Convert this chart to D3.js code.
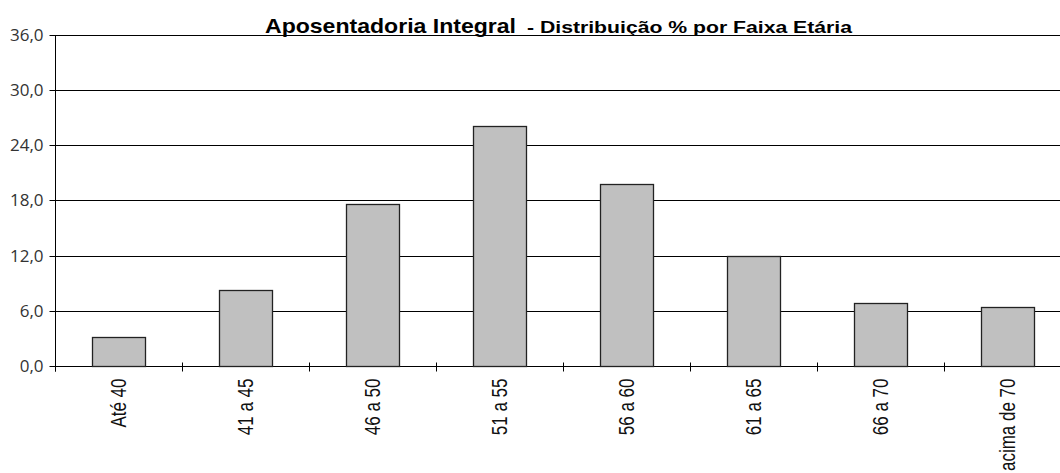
<!DOCTYPE html>
<html>
<head>
<meta charset="utf-8">
<script src="https://cdn.jsdelivr.net/npm/d3@7"></script>
<style>
  body { margin: 0; background: #fff; }
  svg { display: block; }
</style>
</head>
<body>
<div class="svg-container"></div>
<script>
    const categories = ["Até 40", "41 a 45", "46 a 50", "51 a 55", "56 a 60", "61 a 65", "66 a 70", "acima de 70"];
    const percentValues = [3.2, 8.2, 17.6, 26.1, 19.8, 12.0, 6.8, 6.4];
    const yTickValues = [0, 6, 12, 18, 24, 30, 36];
    const titleMain = "Aposentadoria Integral";
    const titleSub = "- Distribuição % por Faixa Etária";

    const chart_width = 1060;
    const chart_height = 473;

    const chart_svg = d3.select('.svg-container').append('svg')
        .attr('width', chart_width).attr('height', chart_height)
        .style("font-family", "'Liberation Sans', Arial, Helvetica, sans-serif");

    const x = d3.scaleBand()
        .domain(categories)
        .range([55, 1071])
        .paddingInner(0.585)
        .paddingOuter(0.2925);

    const y = d3.scaleLinear()
        .domain([0, 36])
        .range([366, 34.5]);

    const snap = v => Math.round(v) + 0.5;

    // gridlines
    chart_svg.append('g').attr('class', 'grid')
        .selectAll('line')
        .data(yTickValues)
        .enter()
        .append('line')
          .attr('x1', 55).attr('x2', chart_width)
          .attr('y1', d => snap(y(d))).attr('y2', d => snap(y(d)))
          .attr('stroke', '#000')
          .attr('stroke-width', 1);

    // bars
    chart_svg.append('g').attr('class', 'bars')
        .selectAll('rect')
        .data(percentValues)
        .enter()
        .append('rect')
          .attr('x', (d, i) => snap(x(categories[i])))
          .attr('y', d => snap(y(d)))
          .attr('width', Math.round(x.bandwidth()))
          .attr('height', d => snap(y(0)) - snap(y(d)))
          .attr('fill', '#c0c0c0')
          .attr('stroke', '#222')
          .attr('stroke-width', 1.3);

    // y axis
    const yAxis = d3.axisLeft(y)
        .tickValues(yTickValues)
        .tickSize(6)
        .tickPadding(6)
        .tickFormat(d => d.toFixed(1).replace('.', ','));

    const g_y = chart_svg.append('g')
        .attr('transform', 'translate(55.5,0)')
        .call(yAxis);
    g_y.select('.domain').remove();
    g_y.selectAll('.tick').attr('transform', d => 'translate(0,' + snap(y(d)) + ')');
    g_y.selectAll('.tick line').attr('stroke', '#000');
    g_y.selectAll('.tick text')
        .attr('fill', '#333')
        .style('font-family', "'Open Sans', 'DejaVu Sans', sans-serif")
        .style('font-size', '17px');
    g_y.append('line')
        .attr('x1', 0).attr('x2', 0)
        .attr('y1', snap(y(36))).attr('y2', snap(y(0)) + 5)
        .attr('stroke', '#000');

    // x axis: tick marks sit on the band boundaries
    const xAxis = d3.axisBottom(x).tickSize(0).tickPadding(12);
    const g_x = chart_svg.append('g')
        .attr('transform', 'translate(0,' + snap(y(0)) + ')')
        .call(xAxis);
    g_x.select('.domain').remove();
    g_x.selectAll('.tick text')
        .attr('fill', '#111')
        .style('font-size', '17px')
        .attr('text-anchor', 'end')
        .attr('transform', 'rotate(-90) scale(1,1.3)')
        .attr('x', -12)
        .attr('y', 0)
        .attr('dy', '0.36em');

    const boundaries = d3.range(categories.length + 1).map(i => x.range()[0] + i * x.step());
    g_x.selectAll('.boundary')
        .data(boundaries)
        .enter()
        .append('line')
          .attr('class', 'boundary')
          .attr('x1', d => snap(d)).attr('x2', d => snap(d))
          .attr('y1', -4).attr('y2', 5)
          .attr('stroke', '#000');

    // title
    const title = chart_svg.append('g').attr('class', 'the-title');
    title.append('text')
        .attr('x', 265).attr('y', 33)
        .style('font-weight', 'bold')
        .style('font-size', '21px')
        .attr('textLength', 251)
        .attr('lengthAdjust', 'spacingAndGlyphs')
        .text(titleMain);
    title.append('text')
        .attr('x', 527).attr('y', 33)
        .style('font-weight', 'bold')
        .style('font-size', '16px')
        .attr('textLength', 325)
        .attr('lengthAdjust', 'spacingAndGlyphs')
        .text(titleSub);
</script>
</body>
</html>
